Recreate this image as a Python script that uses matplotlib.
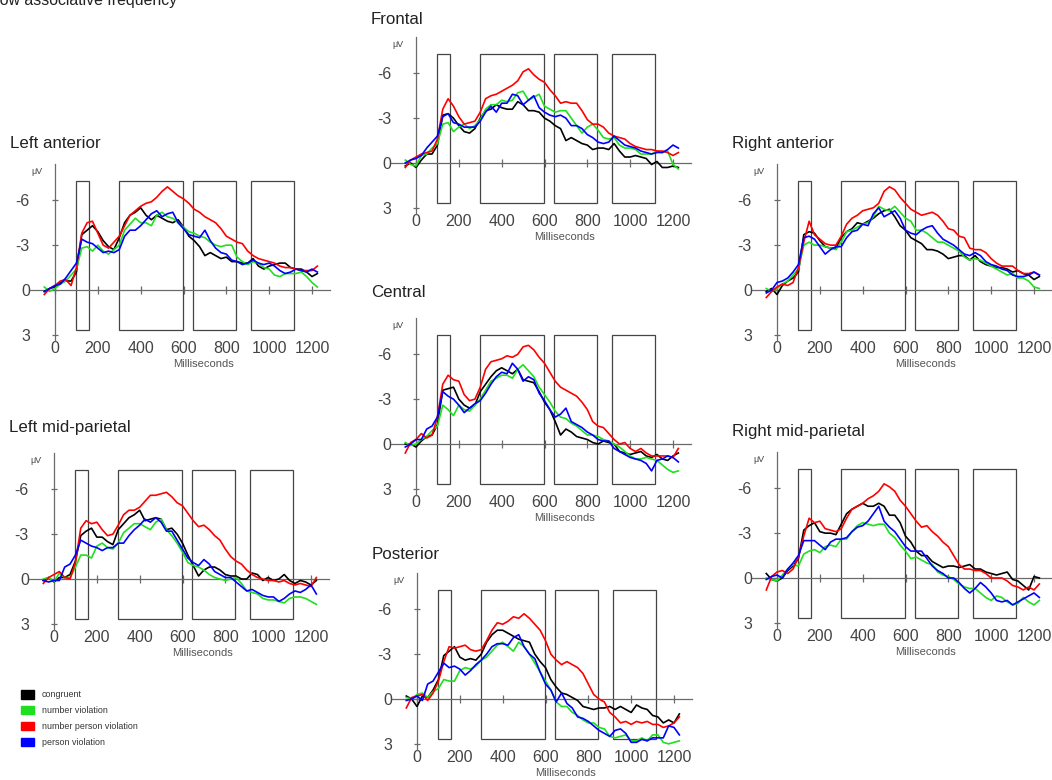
import matplotlib
matplotlib.use("Agg")
import matplotlib.pyplot as plt
from matplotlib.patches import Rectangle, Patch

plt.rcParams['font.family'] = ['Liberation Sans', 'DejaVu Sans']
plt.rcParams['axes.unicode_minus'] = False

# sampling grid of the read-off values (ms)
times = list(range(-50, 1226, 25))

conditions = ['congruent', 'number violation', 'number person violation', 'person violation']
colors = ['#000000', '#1ee01e', '#ff0000', '#0000ff']

# analysis windows (ms)
windows = [(100, 158), (298, 596), (646, 846), (914, 1116)]

# amplitudes in microvolts (negative up), one list per condition and region
la_congruent = [0.1, -0.1, -0.2, -0.5, -0.6, -0.6, -1.2, -3.7, -4.0, -4.3,
                -3.9, -3.3, -2.9, -2.7, -3.5, -4.5, -5.0, -5.2, -5.5, -5.0,
                -4.7, -5.0, -4.8, -4.6, -4.5, -4.7, -4.2, -3.6, -3.3, -2.9,
                -2.3, -2.5, -2.3, -2.1, -2.2, -1.9, -1.9, -1.8, -1.8, -2.1,
                -1.6, -1.4, -1.6, -1.7, -1.8, -1.8, -1.5, -1.4, -1.4, -1.2,
                -0.9, -1.1]
la_number = [-0.2, 0.1, -0.1, -0.4, -0.6, -1.0, -1.4, -2.8, -2.9, -2.6,
             -3.0, -2.6, -2.4, -2.7, -3.0, -4.0, -4.4, -4.8, -4.5, -4.5,
             -4.3, -5.0, -5.2, -4.9, -4.8, -4.5, -4.2, -3.9, -3.8, -3.6,
             -3.5, -3.2, -3.0, -2.9, -3.0, -3.0, -2.2, -1.9, -1.7, -1.9,
             -1.8, -1.5, -1.4, -1.0, -0.9, -1.1, -1.1, -1.1, -1.2, -0.9,
             -0.5, -0.2]
la_both = [0.3, -0.1, -0.3, -0.6, -0.7, -0.3, -1.5, -3.8, -4.5, -4.6,
           -3.8, -3.0, -2.8, -3.2, -3.6, -4.3, -5.0, -5.3, -5.6, -5.8,
           -5.9, -6.2, -6.6, -6.9, -6.6, -6.3, -6.1, -5.8, -5.4, -5.2,
           -4.9, -4.7, -4.5, -4.1, -3.6, -3.4, -3.2, -3.1, -2.6, -2.3,
           -2.1, -2.0, -1.9, -1.8, -1.6, -1.5, -1.5, -1.4, -1.3, -1.3,
           -1.3, -1.6]
la_person = [0.1, -0.1, -0.3, -0.4, -0.8, -1.3, -1.8, -3.4, -3.2, -3.1,
             -2.8, -2.5, -2.6, -2.5, -2.7, -3.6, -4.0, -4.0, -4.3, -4.7,
             -5.1, -5.3, -4.9, -5.1, -5.2, -4.5, -4.1, -3.7, -3.6, -3.5,
             -4.0, -3.3, -2.8, -2.5, -2.4, -2.0, -1.9, -1.7, -1.8, -2.0,
             -1.8, -1.7, -1.8, -1.6, -1.3, -1.1, -1.2, -1.4, -1.3, -1.2,
             -1.4, -1.2]

fr_congruent = [0.2, 0.0, 0.3, -0.2, -0.6, -0.6, -1.2, -3.2, -3.3, -3.0,
                -2.5, -2.1, -2.0, -2.3, -3.0, -3.5, -3.6, -3.9, -3.7, -3.6,
                -3.6, -4.1, -3.9, -3.5, -3.5, -3.4, -3.0, -2.8, -2.5, -2.3,
                -1.5, -1.7, -1.5, -1.3, -1.2, -0.9, -1.0, -1.0, -0.9, -1.3,
                -0.8, -0.4, -0.4, -0.5, -0.4, -0.3, 0.1, -0.1, 0.3, 0.3,
                0.2, 0.3]
fr_number = [-0.2, 0.1, 0.2, -0.5, -0.6, -1.0, -1.3, -2.6, -2.7, -2.1,
             -2.4, -2.6, -2.3, -2.5, -2.9, -3.6, -3.9, -3.9, -4.2, -4.1,
             -4.2, -4.7, -4.8, -4.2, -4.4, -4.6, -3.8, -3.6, -3.4, -3.5,
             -3.5, -3.0, -2.5, -2.0, -2.4, -2.6, -2.2, -1.7, -1.6, -1.7,
             -1.2, -1.0, -1.0, -0.9, -0.6, -0.6, -0.6, -0.8, -0.7, -0.8,
             0.1, 0.4]
fr_both = [0.3, -0.2, -0.4, -0.6, -0.7, -0.8, -1.6, -3.6, -4.3, -3.8,
           -3.1, -2.6, -2.7, -2.8, -3.4, -4.3, -4.5, -4.6, -4.8, -5.0,
           -5.2, -5.5, -6.1, -6.3, -5.9, -5.6, -5.4, -4.9, -4.5, -4.0,
           -4.1, -4.0, -4.0, -3.5, -2.9, -2.6, -2.6, -2.4, -2.0, -1.8,
           -1.7, -1.6, -1.3, -1.1, -1.0, -0.9, -0.9, -0.8, -0.8, -0.7,
           -0.5, -0.7]
fr_person = [0.0, -0.2, -0.3, -0.5, -1.0, -1.4, -1.8, -3.1, -3.3, -2.7,
             -2.6, -2.4, -2.4, -2.4, -2.8, -3.4, -3.8, -3.4, -4.0, -4.0,
             -4.6, -4.5, -3.9, -4.2, -4.5, -3.7, -3.4, -3.2, -3.1, -3.2,
             -3.0, -2.5, -2.5, -2.3, -1.9, -1.7, -1.4, -1.3, -1.4, -1.8,
             -1.5, -1.2, -1.1, -1.0, -0.8, -0.7, -0.6, -0.7, -0.7, -0.9,
             -1.2, -1.0]

ce_congruent = [0.0, 0.0, 0.2, -0.2, -0.5, -0.6, -1.3, -3.6, -3.7, -3.8,
                -3.0, -2.6, -2.4, -2.6, -3.5, -4.0, -4.5, -4.9, -5.1, -4.9,
                -4.7, -5.0, -4.3, -4.2, -4.1, -3.5, -2.8, -2.3, -1.5, -0.6,
                -1.0, -0.8, -0.5, -0.4, -0.3, -0.1, 0.0, -0.2, -0.1, 0.0,
                0.5, 0.6, 0.7, 0.6, 0.5, 0.8, 0.9, 0.7, 1.0, 1.1,
                0.8, 0.6]
ce_number = [-0.1, 0.1, 0.0, -0.3, -0.5, -0.9, -1.2, -2.6, -2.3, -1.9,
             -2.6, -2.3, -2.2, -2.6, -3.0, -3.6, -4.2, -4.4, -4.6, -4.6,
             -4.4, -5.0, -5.3, -4.9, -4.5, -3.8, -3.3, -2.8, -2.2, -1.8,
             -1.7, -1.4, -1.2, -0.9, -0.6, -0.6, -0.5, -0.3, -0.2, 0.0,
             0.2, 0.5, 0.8, 1.0, 1.0, 0.9, 1.0, 1.1, 1.4, 1.7,
             1.9, 1.8]
ce_both = [0.6, -0.1, -0.3, -0.7, -0.4, -0.6, -1.8, -4.0, -4.6, -4.3,
           -4.2, -3.3, -2.9, -3.0, -3.8, -5.0, -5.5, -5.6, -5.7, -5.9,
           -5.8, -6.0, -6.5, -6.6, -6.3, -5.8, -5.4, -4.8, -4.2, -3.8,
           -3.6, -3.4, -3.2, -2.8, -2.3, -1.5, -1.2, -1.1, -0.7, -0.3,
           0.0, -0.1, 0.3, 0.5, 0.3, 0.6, 0.8, 0.8, 0.8, 0.8,
           0.9, 0.3]
ce_person = [0.2, 0.0, -0.3, -0.3, -1.0, -1.2, -1.8, -3.5, -3.2, -3.0,
             -2.6, -2.1, -2.4, -2.7, -2.9, -3.4, -4.0, -4.5, -4.8, -4.7,
             -5.4, -5.0, -4.2, -4.5, -4.3, -3.4, -2.9, -2.3, -1.8, -2.0,
             -2.4, -1.5, -1.3, -1.1, -0.8, -0.6, -0.3, -0.2, -0.2, 0.3,
             0.5, 0.7, 0.9, 1.0, 1.1, 1.3, 1.8, 1.1, 1.0, 0.8,
             0.9, 1.2]

po_congruent = [-0.2, 0.0, 0.5, -0.2, -0.1, -0.6, -1.3, -2.9, -3.2, -3.5,
                -2.8, -2.6, -2.7, -2.6, -3.0, -3.8, -4.3, -4.6, -4.6, -4.4,
                -4.2, -4.0, -3.9, -3.8, -3.0, -2.5, -2.1, -1.3, -0.8, -0.4,
                -0.3, -0.1, 0.1, 0.5, 0.6, 0.7, 0.6, 0.6, 0.5, 0.7,
                0.5, 0.7, 0.9, 0.4, 0.6, 0.7, 1.1, 1.2, 1.6, 1.4,
                1.6, 1.0]
po_number = [-0.1, 0.0, -0.3, -0.4, -0.1, -0.5, -0.7, -1.3, -1.2, -1.2,
             -1.9, -2.1, -2.0, -2.2, -2.6, -2.8, -3.2, -3.6, -3.8, -3.5,
             -3.2, -3.8, -3.5, -3.0, -2.4, -1.8, -1.2, -0.6, 0.2, 0.5,
             0.5, 0.9, 1.1, 1.4, 1.6, 1.6, 1.9, 2.0, 2.5, 2.6,
             2.5, 2.4, 2.8, 2.8, 2.6, 2.8, 2.4, 2.4, 2.9, 3.0,
             2.9, 2.8]
po_both = [0.6, -0.1, -0.2, -0.3, 0.1, -0.4, -1.2, -2.5, -3.5, -3.4,
           -3.5, -3.6, -3.3, -3.2, -3.3, -3.9, -4.6, -5.1, -5.0, -5.2,
           -5.5, -5.4, -5.7, -5.4, -5.0, -4.6, -3.9, -3.0, -2.6, -2.3,
           -2.5, -2.3, -2.1, -1.7, -1.0, -0.3, 0.0, 0.2, 0.9, 1.2,
           1.6, 1.5, 1.7, 1.5, 1.6, 1.5, 1.7, 1.7, 1.9, 1.8,
           1.6, 1.2]
po_person = [0.1, 0.0, -0.2, 0.1, -1.0, -1.2, -1.8, -2.4, -2.1, -2.2,
             -2.0, -1.6, -1.9, -2.3, -2.6, -3.0, -3.5, -3.7, -3.7, -3.6,
             -4.1, -4.3, -3.5, -3.0, -2.7, -1.8, -1.0, -0.6, 0.2, -0.4,
             0.3, 0.6, 1.2, 1.3, 1.5, 1.8, 2.1, 2.3, 2.5, 2.1,
             2.0, 2.3, 2.9, 2.9, 2.7, 2.8, 2.6, 2.6, 2.6, 1.8,
             1.9, 2.4]

ra_congruent = [0.1, -0.1, 0.3, -0.3, -0.6, -0.8, -1.2, -3.7, -3.9, -3.8,
                -3.3, -2.9, -2.8, -2.8, -3.5, -3.9, -4.1, -4.5, -4.4, -4.6,
                -4.8, -5.1, -5.3, -5.4, -4.9, -4.3, -4.0, -3.5, -3.3, -3.1,
                -2.7, -2.7, -2.6, -2.4, -2.1, -2.2, -2.3, -2.3, -2.0, -2.3,
                -1.9, -1.7, -1.6, -1.5, -1.5, -1.4, -1.2, -1.3, -1.1, -1.0,
                -0.7, -0.9]
ra_number = [-0.1, 0.1, -0.1, -0.4, -0.6, -1.0, -1.4, -3.0, -3.2, -3.0,
             -3.0, -2.9, -2.8, -2.7, -3.2, -3.9, -4.0, -4.2, -4.4, -4.5,
             -4.9, -5.6, -5.4, -5.3, -5.6, -5.2, -4.8, -4.6, -4.0, -4.0,
             -3.8, -3.5, -3.2, -3.2, -3.0, -2.8, -2.6, -2.2, -2.0, -2.1,
             -2.0, -1.8, -1.6, -1.4, -1.2, -1.0, -1.1, -0.8, -0.8, -0.6,
             -0.2, -0.1]
ra_both = [0.5, 0.1, -0.2, -0.4, -0.3, -0.5, -1.5, -3.2, -4.6, -3.7,
           -3.4, -3.1, -3.0, -3.0, -3.6, -4.4, -4.8, -5.0, -5.3, -5.4,
           -5.5, -5.8, -6.6, -6.9, -6.7, -6.2, -5.8, -5.4, -5.2, -5.0,
           -5.1, -5.2, -5.0, -4.6, -4.1, -4.0, -3.6, -3.5, -2.8, -2.7,
           -2.7, -2.5, -2.1, -1.8, -1.6, -1.6, -1.6, -1.3, -1.1, -1.1,
           -1.2, -1.0]
ra_person = [0.2, 0.0, -0.5, -0.6, -0.8, -1.2, -1.7, -3.5, -3.6, -3.4,
             -2.9, -2.4, -2.7, -2.9, -2.9, -3.5, -3.9, -4.0, -4.4, -4.3,
             -5.1, -5.5, -4.9, -5.1, -5.3, -4.8, -4.0, -3.8, -3.7, -4.0,
             -4.2, -4.3, -3.8, -3.4, -3.2, -3.0, -2.7, -2.4, -2.3, -2.5,
             -2.3, -1.9, -1.7, -1.6, -1.4, -1.3, -1.0, -0.9, -0.9, -1.0,
             -1.2, -1.0]

lm_congruent = [0.1, -0.1, 0.2, -0.1, -0.1, -0.3, -1.2, -2.9, -3.2, -3.4,
                -2.8, -2.8, -2.5, -2.3, -3.3, -3.7, -4.1, -4.3, -4.6, -3.9,
                -4.0, -4.1, -4.0, -3.3, -3.4, -3.0, -2.4, -1.6, -0.9, -0.2,
                -0.6, -0.8, -0.8, -0.6, -0.3, -0.2, -0.2, 0.0, 0.0, -0.4,
                -0.3, 0.1, -0.1, 0.1, 0.0, -0.3, 0.1, 0.3, 0.1, 0.2,
                0.4, 0.1]
lm_number = [0.0, -0.1, 0.2, -0.4, -0.1, -0.1, -0.8, -1.6, -1.6, -1.4,
             -2.2, -2.4, -2.1, -2.0, -2.4, -3.1, -3.4, -3.7, -3.7, -3.5,
             -3.3, -3.8, -4.0, -3.3, -2.9, -2.4, -1.8, -1.1, -0.9, -0.8,
             -0.6, -0.3, -0.1, 0.0, 0.1, 0.0, -0.1, 0.3, 0.8, 0.9,
             1.0, 1.3, 1.4, 1.4, 1.5, 1.6, 1.3, 1.2, 1.2, 1.3,
             1.5, 1.7]
lm_both = [0.3, -0.1, -0.3, -0.5, -0.1, 0.0, -1.1, -3.4, -3.9, -3.7,
           -3.8, -3.3, -2.9, -3.0, -3.6, -4.3, -4.6, -4.6, -4.8, -5.2,
           -5.6, -5.6, -5.7, -5.8, -5.5, -5.1, -4.9, -4.4, -3.9, -3.5,
           -3.6, -3.3, -2.9, -2.6, -2.0, -1.5, -1.2, -1.0, -0.6, -0.3,
           -0.1, 0.0, 0.1, 0.1, 0.2, 0.1, 0.3, 0.4, 0.3, 0.4,
           0.5, -0.1]
lm_person = [0.1, 0.2, 0.1, 0.1, -0.8, -1.0, -1.6, -2.6, -2.4, -2.2,
             -2.1, -1.9, -2.1, -2.1, -2.4, -2.4, -2.9, -3.3, -3.6, -4.0,
             -3.8, -4.1, -3.8, -3.2, -3.2, -2.6, -2.0, -1.4, -1.1, -0.9,
             -1.3, -1.0, -0.5, -0.3, -0.1, -0.1, 0.2, 0.5, 0.8, 0.7,
             0.9, 1.1, 1.2, 1.2, 1.5, 1.3, 1.0, 0.8, 0.9, 0.7,
             0.4, 1.0]

rm_congruent = [-0.3, 0.1, 0.2, 0.0, -0.5, -0.8, -1.3, -3.2, -3.5, -3.7,
                -3.1, -3.0, -3.0, -2.9, -3.6, -4.3, -4.6, -4.8, -5.0, -4.8,
                -4.8, -5.0, -4.8, -4.2, -4.2, -3.7, -2.8, -2.4, -1.8, -1.5,
                -1.5, -1.1, -0.9, -0.7, -0.8, -0.8, -0.7, -0.8, -0.9, -0.6,
                -0.6, -0.4, -0.3, -0.2, -0.3, -0.4, 0.1, 0.2, 0.5, 0.8,
                -0.1, 0.0]
rm_number = [0.0, 0.1, 0.2, -0.2, -0.6, -0.9, -0.8, -1.6, -1.8, -1.9,
             -1.7, -2.1, -2.2, -2.1, -2.6, -2.6, -3.1, -3.5, -3.7, -3.6,
             -3.5, -3.6, -3.6, -3.0, -2.7, -2.2, -1.8, -1.3, -1.4, -1.2,
             -1.0, -0.9, -0.4, -0.2, -0.1, 0.1, 0.4, 0.6, 0.7, 0.7,
             1.0, 1.3, 1.5, 1.2, 1.3, 1.6, 1.8, 1.7, 1.3, 1.6,
             1.8, 1.5]
rm_both = [0.8, -0.1, -0.4, -0.5, -0.3, -0.6, -1.4, -2.8, -4.0, -3.7,
           -3.8, -3.3, -3.2, -3.1, -3.3, -4.0, -4.6, -4.8, -5.0, -5.3,
           -5.5, -5.8, -6.3, -6.1, -5.8, -5.2, -4.8, -4.3, -3.8, -3.4,
           -3.5, -3.1, -2.8, -2.4, -2.1, -1.5, -0.9, -0.6, -0.6, -0.5,
           -0.5, -0.3, 0.0, 0.0, 0.0, 0.2, 0.5, 0.6, 0.8, 0.6,
           0.8, 0.4]
rm_person = [0.1, -0.1, -0.2, 0.0, -0.6, -1.0, -1.5, -2.5, -2.5, -2.5,
             -2.2, -1.9, -2.4, -2.6, -2.6, -2.7, -3.1, -3.4, -3.5, -3.8,
             -4.3, -4.8, -3.8, -3.4, -3.1, -2.6, -2.1, -1.8, -1.8, -1.8,
             -1.3, -0.8, -0.5, -0.3, 0.0, 0.0, 0.3, 0.7, 1.0, 0.7,
             0.3, 0.6, 1.0, 1.5, 1.6, 1.5, 1.8, 1.6, 1.4, 1.2,
             1.0, 1.3]

# title, origin (pixel position of 0 ms / 0 uV), title baseline (pixels), traces
panels = [
    ('Frontal', 416, 163, 24, [fr_congruent, fr_number, fr_both, fr_person]),
    ('Left anterior', 55, 290, 148, [la_congruent, la_number, la_both, la_person]),
    ('Right anterior', 777, 290, 148, [ra_congruent, ra_number, ra_both, ra_person]),
    ('Central', 416, 444, 297, [ce_congruent, ce_number, ce_both, ce_person]),
    ('Left mid-parietal', 54, 579, 432, [lm_congruent, lm_number, lm_both, lm_person]),
    ('Right mid-parietal', 777, 578, 436, [rm_congruent, rm_number, rm_both, rm_person]),
    ('Posterior', 417, 699, 559, [po_congruent, po_number, po_both, po_person]),
]

W, H = 1052, 780
PX_MS = 257 / 1200
PX_UV = 14.95
XMIN, XMAX = -200, 1320
YTOP, YBOT = -10.0, 5.5
AXIS_GREY = '#6a6a6a'

fig = plt.figure(figsize=(W / 100, H / 100), dpi=100)


def draw_panel(title, x0, y0, title_y, traces):
    left = x0 + XMIN * PX_MS
    top = y0 + YTOP * PX_UV
    w = (XMAX - XMIN) * PX_MS
    h = (YBOT - YTOP) * PX_UV
    ax = fig.add_axes([left / W, 1 - (top + h) / H, w / W, h / H])
    ax.set_xlim(XMIN, XMAX)
    ax.set_ylim(YBOT, YTOP)  # negative up
    ax.patch.set_alpha(0)

    ax.spines['top'].set_visible(False)
    ax.spines['right'].set_visible(False)
    ax.spines['left'].set_position(('data', 0))
    ax.spines['left'].set_bounds(-8.4, 3.4)
    ax.spines['bottom'].set_position(('data', 0))
    ax.spines['bottom'].set_bounds(-115, 1285)
    for s in ['left', 'bottom']:
        ax.spines[s].set_color(AXIS_GREY)
        ax.spines[s].set_linewidth(0.9)

    ax.set_xticks([0, 200, 400, 600, 800, 1000, 1200])
    ax.set_yticks([-6, -3, 0, 3])
    ax.set_yticklabels(['-6', '-3', '0', '3'])
    ax.tick_params(axis='x', direction='inout', length=6, width=0.9, color=AXIS_GREY,
                   pad=34, labelsize=11.5, labelcolor='#444444')
    ax.tick_params(axis='y', direction='inout', length=4, width=0.9, color=AXIS_GREY,
                   pad=16, labelsize=11.5, labelcolor='#444444')

    for a, b in windows:
        ax.add_patch(Rectangle((a, -7.3), b - a, 10.0, fill=False,
                               edgecolor='#444444', linewidth=0.9, zorder=2))

    for vals, c in zip(traces, colors):
        ax.plot(times, vals, color=c, linewidth=1.2, zorder=3)

    ax.text(-85, -7.9, 'μV', fontsize=6.5, ha='center', va='center', color='#444444')
    ax.text(695, 4.95, 'Milliseconds', fontsize=8, ha='center', va='center', color='#555555')
    ax.text(-210, (title_y - y0) / PX_UV, title, fontsize=12.2, ha='left',
            va='baseline', color='#222222', clip_on=False)


for title, x0, y0, title_y, traces in panels:
    draw_panel(title, x0, y0, title_y, traces)

# heading, cut off at the top-left edge in the original
fig.text(-8.8 / W, 1 - 5 / H, 'Low associative frequency', fontsize=11.4,
         ha='left', va='baseline', color='#222222')

handles = [Patch(facecolor=c, edgecolor=c) for c in colors]
fig.legend(handles, conditions, loc='upper left', bbox_to_anchor=(21 / W, 1 - 690 / H),
           frameon=False, fontsize=6.4, handlelength=1.45, handleheight=1.1,
           handletextpad=0.9, labelspacing=0.75, borderpad=0, borderaxespad=0,
           labelcolor='#333333')

fig.savefig('out.png', dpi=100)
